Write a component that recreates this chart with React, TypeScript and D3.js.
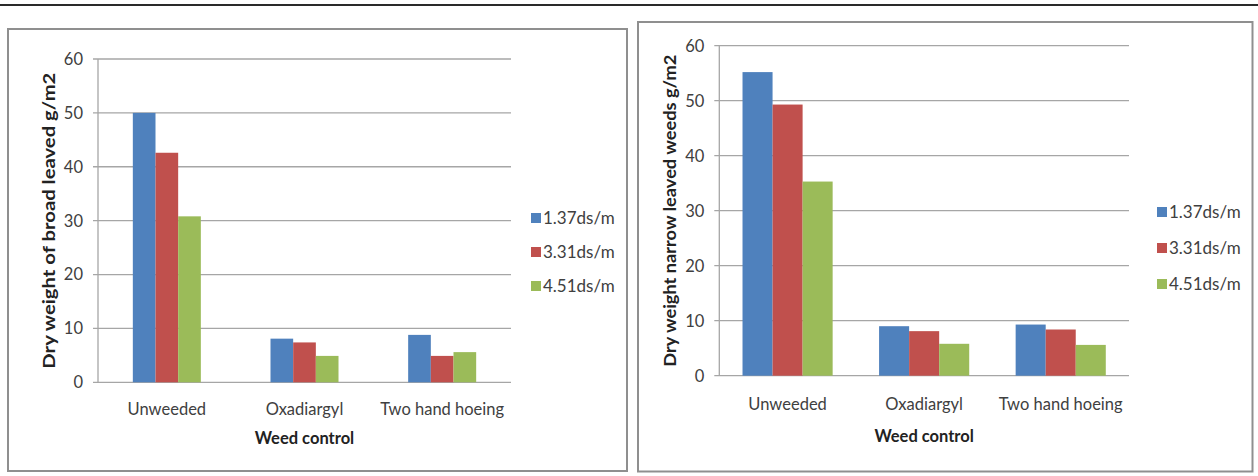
import React from "react";
import * as d3 from "d3";

// Weed control treatments and salinity levels
const categories = ["Unweeded", "Oxadiargyl", "Two hand hoeing"];
const seriesNames = ["1.37ds/m", "3.31ds/m", "4.51ds/m"];
const seriesColors = ["#4F81BD", "#C0504D", "#9BBB59"];
const yTicks = [0, 10, 20, 30, 40, 50, 60];

// Dry weight of broad leaved weeds (g/m2)
const broad137 = [50.0, 8.1, 8.8];
const broad331 = [42.6, 7.4, 4.9];
const broad451 = [30.8, 4.9, 5.6];

// Dry weight of narrow leaved weeds (g/m2)
const narrow137 = [55.2, 9.0, 9.3];
const narrow331 = [49.3, 8.1, 8.4];
const narrow451 = [35.3, 5.8, 5.6];

const FONT = "Lato, 'Open Sans', Arial, sans-serif";

type PanelProps = {
  box: { x: number; y: number; w: number; h: number };
  plot: { left: number; right: number; top: number; bottom: number };
  groupPadding: number;
  series: number[][];
  yTitle: string;
  yTitleX: number;
  yTitleLen: number;
  catLabelY: number;
  xTitleY: number;
  legend: { x: number; y: number; step: number };
};

function Panel(p: PanelProps) {
  const x = d3
    .scaleBand<string>()
    .domain(categories)
    .range([p.plot.left, p.plot.right])
    .paddingInner(p.groupPadding)
    .paddingOuter(p.groupPadding / 2);
  const xs = d3
    .scaleBand<string>()
    .domain(seriesNames)
    .range([0, x.bandwidth()]);
  const y = d3
    .scaleLinear()
    .domain([0, 60])
    .range([p.plot.bottom, p.plot.top]);
  const midX = (p.plot.left + p.plot.right) / 2;
  const midY = (p.plot.top + p.plot.bottom) / 2;

  return (
    <g>
      <rect
        x={p.box.x}
        y={p.box.y}
        width={p.box.w}
        height={p.box.h}
        fill="#fff"
        stroke="#8f8f8f"
        strokeWidth={2}
      />
      {/* gridlines and y ticks */}
      {yTicks.map((t) => (
        <g key={t}>
          <line
            x1={p.plot.left - 5}
            x2={p.plot.right}
            y1={y(t)}
            y2={y(t)}
            stroke="#a6a6a6"
            strokeWidth={1.3}
          />
          <text
            x={p.plot.left - 15}
            y={y(t)}
            dy="0.36em"
            textAnchor="end"
            fontFamily={FONT}
            fontSize={16.5}
            fill="#404040"
          >
            {t}
          </text>
        </g>
      ))}
      <line
        x1={p.plot.left}
        x2={p.plot.left}
        y1={p.plot.top}
        y2={p.plot.bottom}
        stroke="#a6a6a6"
        strokeWidth={1.3}
      />
      {/* bars */}
      {categories.map((c, ci) => (
        <g key={c}>
          {seriesNames.map((s, si) => (
            <rect
              key={s}
              x={(x(c) ?? 0) + (xs(s) ?? 0)}
              y={y(p.series[si][ci])}
              width={xs.bandwidth()}
              height={y(0) - y(p.series[si][ci])}
              fill={seriesColors[si]}
            />
          ))}
          <text
            x={(x(c) ?? 0) + x.bandwidth() / 2}
            y={p.catLabelY}
            textAnchor="middle"
            fontFamily={FONT}
            fontSize={16.5}
            fill="#404040"
          >
            {c}
          </text>
        </g>
      ))}
      <text
        x={midX}
        y={p.xTitleY}
        textAnchor="middle"
        fontFamily={FONT}
        fontSize={16.5}
        fontWeight="bold"
        fill="#222"
      >
        Weed control
      </text>
      <text
        transform={`translate(${p.yTitleX},${midY}) rotate(-90)`}
        textAnchor="middle"
        dy="0.36em"
        fontFamily={FONT}
        fontSize={17}
        fontWeight="bold"
        fill="#222"
        textLength={p.yTitleLen}
        lengthAdjust="spacingAndGlyphs"
      >
        {p.yTitle}
      </text>
      {/* legend */}
      {seriesNames.map((s, si) => (
        <g key={s} transform={`translate(${p.legend.x},${p.legend.y + si * p.legend.step})`}>
          <rect x={0} y={-5} width={10} height={10} fill={seriesColors[si]} />
          <text
            x={12}
            y={0}
            dy="0.36em"
            fontFamily={FONT}
            fontSize={17}
            fill="#404040"
          >
            {s}
          </text>
        </g>
      ))}
    </g>
  );
}

export default function App() {
  return (
    <svg
      width={1258}
      height={476}
      style={{ position: "absolute", left: 0, top: 0, background: "#fff" }}
    >
      <line x1={0} x2={1258} y1={5} y2={5} stroke="#2a2a2a" strokeWidth={2} />
      <Panel
        box={{ x: 8, y: 29, w: 619, h: 442 }}
        plot={{ left: 98, right: 511, top: 59, bottom: 382.3 }}
        groupPadding={0.506}
        series={[broad137, broad331, broad451]}
        yTitle="Dry weight of broad leaved g/m2"
        yTitleX={49}
        yTitleLen={296}
        catLabelY={415}
        xTitleY={444}
        legend={{ x: 531, y: 218, step: 34 }}
      />
      <Panel
        box={{ x: 638, y: 22, w: 614.5, h: 449.5 }}
        plot={{ left: 719.3, right: 1129, top: 45.7, bottom: 375.7 }}
        groupPadding={0.34}
        series={[narrow137, narrow331, narrow451]}
        yTitle="Dry weight narrow leaved weeds g/m2"
        yTitleX={670}
        yTitleLen={312}
        catLabelY={410}
        xTitleY={442}
        legend={{ x: 1157, y: 212, step: 36 }}
      />
    </svg>
  );
}
